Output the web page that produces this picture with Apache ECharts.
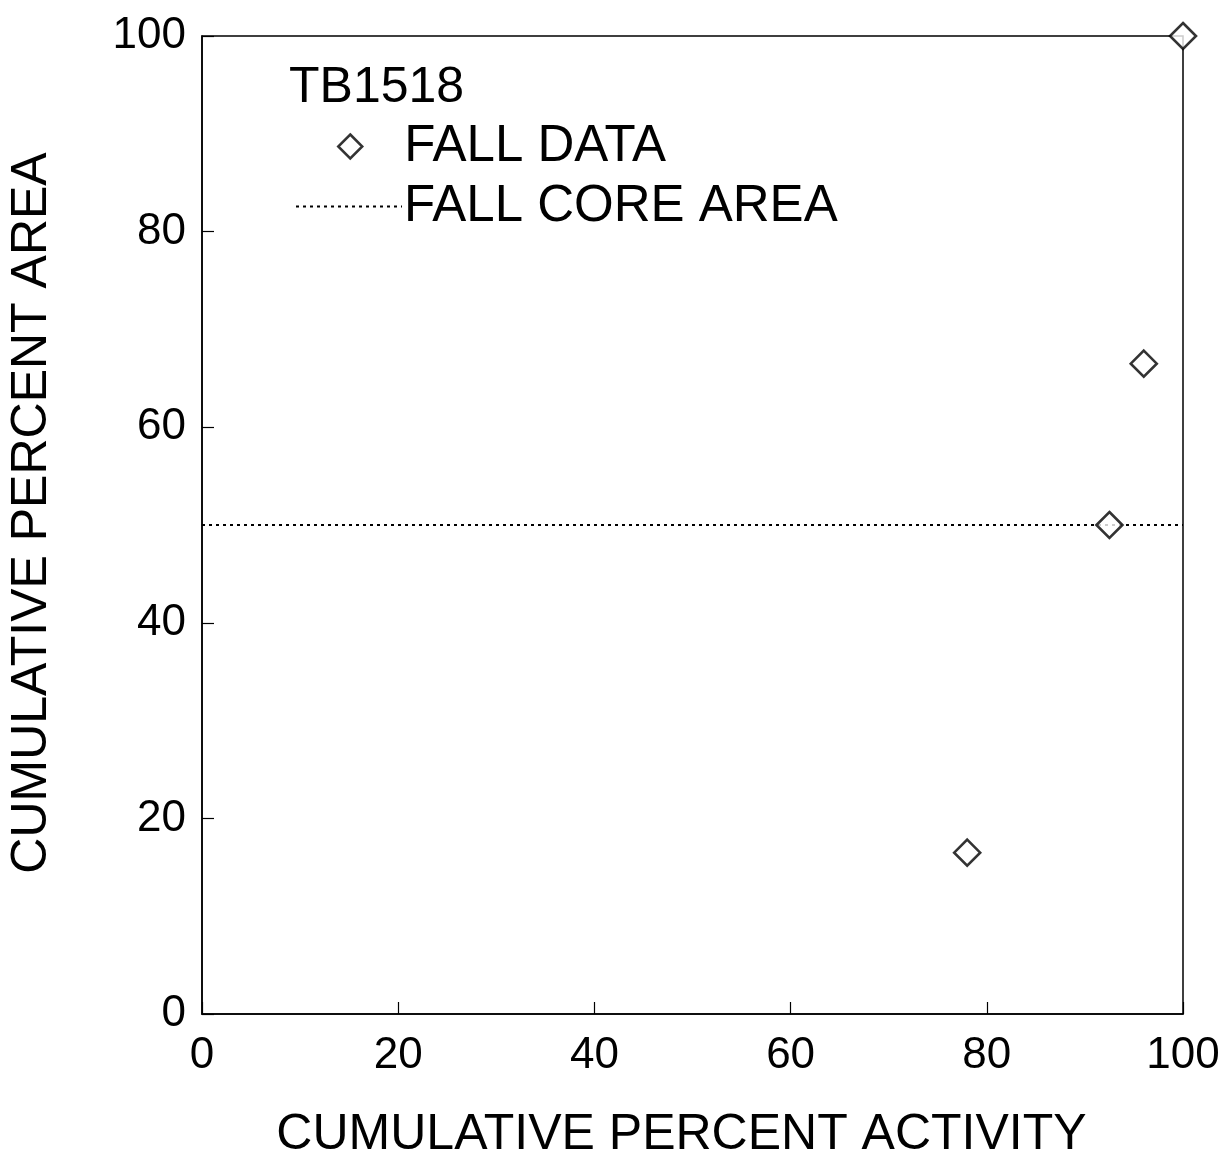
<!DOCTYPE html>
<html>
<head>
<meta charset="utf-8">
<script src="https://cdn.jsdelivr.net/npm/echarts@6/dist/echarts.min.js"></script>
<style>html,body{margin:0;padding:0;background:#fff;}#c{width:1221px;height:1163px;}</style>
</head>
<body>
<div id="c"></div>
<script>
// Data
const siteLabel = 'TB1518';
const fallActivity = [78, 92.5, 96, 100];
const fallArea = [16.5, 50, 66.5, 100];
const coreX = [0, 100];
const coreY = [50, 50];
const xTicks = [0, 20, 40, 60, 80, 100];
const yTicks = [0, 20, 40, 60, 80, 100];

const FONT = 'Liberation Sans';
const chart = echarts.init(document.getElementById('c'), null, {renderer: 'canvas'});
const option = {
  backgroundColor: '#fff',
  animation: false,
  title: {
    text: siteLabel, left: 284, top: 58,
    textStyle: {fontFamily: FONT, fontSize: 50, fontWeight: 'normal', color: '#000'}
  },
  legend: [
    {
      data: ['FALL DATA'], left: 332, top: 116, orient: 'vertical',
      itemWidth: 24, itemHeight: 24,
      itemStyle: {borderWidth: 2.5},
      formatter: n => '{g|}' + n,
      textStyle: {fontFamily: FONT, fontSize: 51, color: '#000', rich: {g: {width: 37}}}
    },
    {
      data: ['FALL CORE AREA'], left: 290, top: 176, orient: 'vertical',
      itemWidth: 106, itemHeight: 14,
      itemStyle: {color: 'transparent', borderWidth: 0, opacity: 0},
      textStyle: {fontFamily: FONT, fontSize: 51, color: '#000', padding: [0,0,0,-3]}
    }
  ],
  grid: {left: 202, right: 38, top: 36, bottom: 149, outerBoundsMode: 'none', show: true, borderColor: '#000', borderWidth: 1.5, backgroundColor: 'transparent'},
  xAxis: {
    type: 'value', min: 0, max: 100, interval: 20,
    name: 'CUMULATIVE PERCENT ACTIVITY', nameLocation: 'middle', nameGap: 96,
    nameTextStyle: {fontFamily: FONT, fontSize: 50, color: '#000', padding: [0, 22, 0, 0]},
    axisLine: {show: true, lineStyle: {color: '#000', width: 1.5}},
    axisTick: {show: true, inside: true, length: 12, lineStyle: {color: '#000', width: 1.2}},
    axisLabel: {fontFamily: FONT, fontSize: 44, color: '#000', margin: 20,
      formatter: v => xTicks.includes(v) ? String(v) : ''},
    splitLine: {show: false}
  },
  yAxis: {
    type: 'value', min: 0, max: 100, interval: 20,
    name: 'CUMULATIVE PERCENT AREA', nameLocation: 'middle', nameGap: 145, nameRotate: 90,
    nameTextStyle: {fontFamily: FONT, fontSize: 50, color: '#000', padding: [0, 0, 0, 24]},
    axisLine: {show: true, lineStyle: {color: '#000', width: 1.5}},
    axisTick: {show: true, inside: true, length: 12, lineStyle: {color: '#000', width: 1.2}},
    axisLabel: {fontFamily: FONT, fontSize: 44, color: '#000', margin: 16,
      formatter: v => yTicks.includes(v) ? String(v) : ''},
    splitLine: {show: false}
  },
  series: [
    {
      name: 'FALL DATA', type: 'scatter', symbol: 'diamond', symbolSize: 26,
      data: fallActivity.map((x, i) => [x, fallArea[i]]),
      itemStyle: {color: '#fff', borderColor: '#000', borderWidth: 2.6},
      z: 5
    },
    {
      name: 'FALL CORE AREA', type: 'line', symbol: 'none', showSymbol: false,
      data: coreX.map((x, i) => [x, coreY[i]]),
      lineStyle: {color: '#000', width: 2, type: [3, 4]},
      z: 3
    }
  ]
};
chart.setOption(option);
</script>
</body>
</html>
